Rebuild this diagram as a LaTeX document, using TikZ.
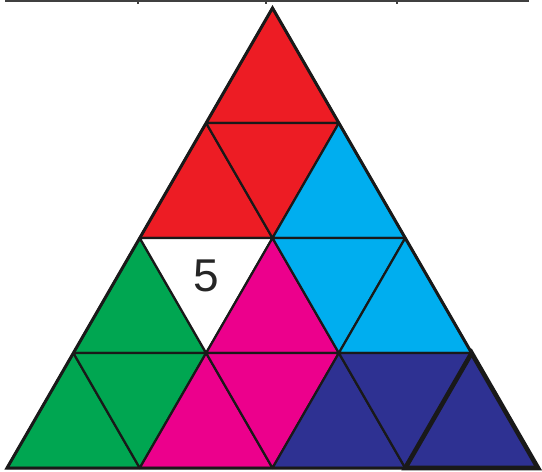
\documentclass[tikz,border=0pt]{standalone}
\usepackage{fontspec}
\setmainfont{Liberation Sans}
\definecolor{triRed}{HTML}{ED1C24}
\definecolor{triCyan}{HTML}{00AEEF}
\definecolor{triGreen}{HTML}{00A651}
\definecolor{triMagenta}{HTML}{EC008C}
\definecolor{triNavy}{HTML}{2E3192}
\usetikzlibrary{calc}

% one small triangle: colour, row, index
\newcommand{\upcell}[3]{%
  \pgfmathtruncatemacro{\rp}{#2-1}\pgfmathtruncatemacro{\jn}{#3+1}%
  \filldraw[cell, fill=#1] (v-\rp-#3) -- (v-#2-#3) -- (v-#2-\jn) -- cycle;}
\newcommand{\downcell}[3]{%
  \pgfmathtruncatemacro{\rp}{#2-1}\pgfmathtruncatemacro{\jn}{#3+1}%
  \filldraw[cell, fill=#1] (v-\rp-#3) -- (v-\rp-\jn) -- (v-#2-\jn) -- cycle;}

\begin{document}
\begin{tikzpicture}[
    x=1pt, y=-1pt,
    cell/.style={draw=black!90, line width=2.2pt, line join=round},
    rim/.style={draw=black!90, line width=3pt, line join=miter},
    ruler/.style={draw=black!75, line width=1.6pt}
]
\useasboundingbox (0,0) rectangle (542,472);
% lattice points
\foreach \r in {0,...,4}{
  \foreach \j in {0,...,\r}{
    \coordinate (v-\r-\j) at ({272.5-66.375*\r+132.75*\j},{8+115*\r});
  }
}
% rows of cells
\upcell{triRed}{1}{0}
\upcell{triRed}{2}{0}
\downcell{triRed}{2}{0}
\upcell{triCyan}{2}{1}
\upcell{triGreen}{3}{0}
\downcell{white}{3}{0}
\upcell{triMagenta}{3}{1}
\downcell{triCyan}{3}{1}
\upcell{triCyan}{3}{2}
\upcell{triGreen}{4}{0}
\downcell{triGreen}{4}{0}
\upcell{triMagenta}{4}{1}
\downcell{triMagenta}{4}{1}
\upcell{triNavy}{4}{2}
\downcell{triNavy}{4}{2}
\upcell{triNavy}{4}{3}
% outline
\draw[rim] (v-0-0) -- (v-4-0) -- (v-4-4) -- cycle;
\draw[rim, line width=4.6pt] (v-3-3) -- (v-4-3) -- (v-4-4) -- cycle;
\node[font=\fontsize{46}{52}\selectfont, text=black!85] (five) at ($(v-2-0)!0.5!(v-2-1)!0.333!(v-3-1)$) {5};
% cut ruler at the top
\coordinate (r0) at (5,1);
\coordinate (r1) at (529,1);
\draw[ruler] (r0) -- (r1);
\foreach \t in {138,266,397}
  \draw[ruler] (\t,1) -- (\t,4);
\end{tikzpicture}
\end{document}
